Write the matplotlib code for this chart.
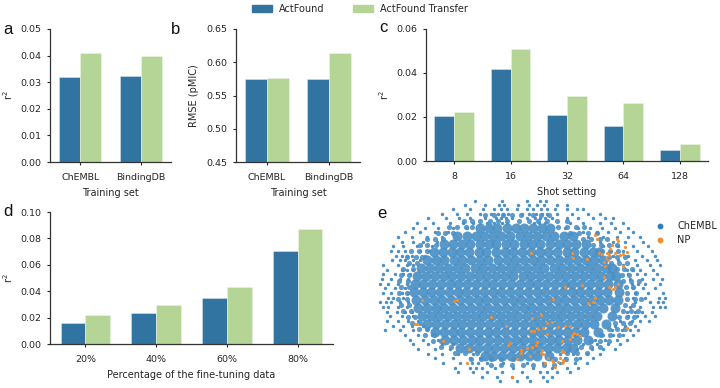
"""Five panel figure: r2 / RMSE bars for ActFound vs ActFound Transfer, plus an embedding map."""
import numpy as np
import matplotlib
matplotlib.use('Agg')
import matplotlib.pyplot as plt
from matplotlib.lines import Line2D
from matplotlib.patches import Patch

BLUE = '#3274a1'
GREEN = '#b4d596'
DOT = '#4a90c6'
ORANGE = '#f58d2e'
INK = '#262626'

# bar values
train_sets = ['ChEMBL', 'BindingDB']
a_base = [0.0320, 0.0322]
a_transfer = [0.0408, 0.0399]
b_base = [0.5745, 0.5750]
b_transfer = [0.5765, 0.6140]
shots = ['8', '16', '32', '64', '128']
c_base = [0.0205, 0.0419, 0.0208, 0.0158, 0.0048]
c_transfer = [0.0222, 0.0508, 0.0297, 0.0265, 0.0076]
fractions = ['20%', '40%', '60%', '80%']
d_base = [0.0158, 0.0237, 0.0347, 0.0705]
d_transfer = [0.0222, 0.0298, 0.0432, 0.0875]

# embedding points, estimated by eye; each row is (y, [x, ...])
chembl_core = [
    (100, [330, 358, 381, 412, 437, 463, 488, 515, 541]),
    (124, [262, 291, 317, 342, 370, 394, 421, 449, 474, 502, 527, 553, 581, 610]),
    (148, [222, 249, 277, 301, 329, 356, 379, 408, 433, 461, 487, 511, 539, 566, 592, 618, 647]),
    (172, [192, 218, 247, 271, 298, 326, 349, 377, 404, 429, 457, 482, 510, 535, 561, 590, 613, 641, 668, 688]),
    (196, [170, 197, 223, 252, 276, 303, 330, 355, 383, 410, 435, 463, 488, 514, 541, 567, 594, 620, 648, 672, 699]),
    (220, [153, 180, 208, 233, 261, 286, 314, 340, 366, 392, 419, 445, 471, 498, 523, 551, 577, 603, 630, 656, 682, 708, 727]),
    (244, [141, 167, 194, 221, 246, 273, 299, 326, 351, 379, 405, 430, 458, 484, 509, 537, 563, 588, 616, 641, 669, 694, 720, 739]),
    (268, [135, 160, 187, 212, 240, 265, 292, 318, 345, 370, 397, 423, 449, 476, 501, 529, 555, 581, 607, 634, 660, 686, 713, 744]),
    (292, [133, 158, 184, 211, 236, 263, 289, 315, 342, 368, 394, 421, 447, 473, 500, 526, 552, 578, 605, 631, 657, 684, 710, 747]),
    (316, [137, 165, 191, 217, 244, 270, 296, 323, 349, 375, 402, 428, 454, 481, 507, 533, 560, 586, 612, 639, 665, 691, 718, 743]),
    (340, [143, 170, 198, 223, 250, 276, 303, 329, 355, 382, 408, 434, 461, 487, 513, 540, 566, 592, 619, 645, 671, 698, 736]),
    (364, [155, 182, 208, 235, 261, 287, 314, 340, 366, 393, 419, 445, 472, 498, 524, 551, 577, 603, 630, 656, 682, 725]),
    (388, [172, 198, 225, 251, 277, 304, 330, 356, 383, 409, 435, 462, 488, 514, 541, 567, 593, 620, 646, 672, 708]),
    (412, [195, 221, 248, 274, 300, 327, 353, 379, 406, 432, 458, 485, 511, 537, 564, 590, 616, 643, 685]),
    (436, [226, 252, 279, 305, 331, 358, 384, 410, 437, 463, 489, 516, 542, 568, 595, 621, 654]),
    (460, [271, 297, 324, 350, 376, 403, 429, 455, 482, 508, 534, 561, 587, 609]),
    (484, [344, 370, 397, 423, 449, 476, 502, 536]),
]
# ring of medium dots between the solid middle and the sparse rim
chembl_mid = [
    (60, [345, 372, 398, 425, 452, 490, 512, 538]),
    (78, [282, 305, 331, 360, 385, 412, 446, 478, 503, 530, 562, 590]),
    (96, [238, 262, 288, 305, 565, 592, 618, 643]),
    (114, [203, 226, 248, 600, 628, 655, 680]),
    (132, [172, 196, 220, 640, 664, 690, 712]),
    (150, [150, 172, 197, 668, 694, 718, 742]),
    (168, [124, 148, 170, 696, 720, 745]),
    (186, [112, 138, 157, 716, 742, 765]),
    (204, [118, 142, 722, 748, 772]),
    (222, [100, 128, 740, 762, 786]),
    (240, [94, 118, 755, 778]),
    (258, [88, 114, 760, 784, 806]),
    (276, [92, 116, 768, 790]),
    (294, [88, 110, 772, 798]),
    (312, [84, 112, 770, 796, 812]),
    (330, [94, 118, 764, 788]),
    (348, [100, 124, 760, 782, 804]),
    (366, [114, 136, 748, 772, 792]),
    (384, [126, 150, 734, 758, 780]),
    (402, [146, 172, 716, 742, 764]),
    (420, [164, 192, 692, 720, 746]),
    (438, [188, 214, 664, 690, 716]),
    (456, [214, 244, 634, 662, 690]),
    (474, [254, 286, 320, 592, 622, 650]),
    (492, [304, 332, 364, 392, 428, 556, 588, 618]),
    (510, [362, 394, 426, 458, 490, 522, 552]),
]
chembl_edge = [
    (18, [315, 395, 470, 510, 528]),
    (30, [285, 345, 388, 402, 445, 476, 500, 522, 560, 590]),
    (42, [250, 300, 338, 372, 392, 410, 440, 470, 490, 512, 530, 556, 590, 622, 640]),
    (56, [215, 262, 290, 330, 362, 385, 400, 415, 455, 478, 498, 515, 530, 560, 605, 655, 690]),
    (70, [175, 228, 268, 300, 345, 378, 392, 408, 425, 470, 495, 510, 525, 545, 590, 625, 670, 705, 730]),
    (84, [140, 188, 240, 280, 310, 350, 372, 396, 412, 492, 508, 524, 600, 640, 690, 722, 760]),
    (98, [130, 165, 205, 250, 290, 585, 625, 660, 695, 735, 775]),
    (112, [105, 150, 195, 235, 640, 680, 715, 750, 790]),
    (126, [85, 125, 170, 215, 655, 700, 740, 775, 810]),
    (140, [95, 130, 160, 200, 690, 730, 765, 820]),
    (154, [70, 100, 140, 185, 700, 745, 790, 835]),
    (168, [62, 85, 105, 150, 178, 720, 760, 800, 845]),
    (182, [78, 95, 110, 125, 165, 730, 775, 815, 855]),
    (196, [65, 90, 105, 128, 150, 745, 795, 830, 860]),
    (210, [40, 85, 110, 130, 760, 800, 840, 870]),
    (224, [50, 95, 112, 128, 770, 790, 810, 850]),
    (238, [38, 75, 100, 120, 775, 800, 825, 860]),
    (252, [35, 62, 90, 115, 780, 815, 850, 875]),
    (266, [30, 55, 85, 110, 785, 805, 825, 870]),
    (280, [45, 75, 105, 790, 820, 855]),
    (294, [38, 62, 95, 115, 795, 835, 880]),
    (308, [55, 70, 100, 790, 825, 868, 885]),
    (322, [30, 48, 62, 90, 115, 795, 840, 865, 878]),
    (336, [40, 55, 85, 110, 780, 810, 850, 870, 885]),
    (350, [52, 80, 105, 125, 770, 795, 815, 845]),
    (364, [60, 95, 130, 775, 800, 825, 855]),
    (378, [50, 85, 115, 145, 750, 785, 810, 838]),
    (392, [68, 100, 125, 160, 735, 765, 795]),
    (406, [45, 90, 130, 170, 725, 755, 780, 805]),
    (420, [105, 145, 185, 700, 730, 760, 790]),
    (434, [120, 160, 205, 675, 705, 740, 770]),
    (448, [130, 175, 215, 250, 640, 680, 715, 750]),
    (462, [145, 195, 240, 620, 665, 700, 735]),
    (476, [175, 215, 265, 310, 570, 610, 650, 690]),
    (490, [195, 250, 300, 330, 540, 585, 630, 670]),
    (504, [220, 270, 305, 325, 350, 400, 470, 520, 570, 615, 650]),
    (518, [255, 300, 318, 335, 375, 430, 490, 545, 590, 625]),
    (532, [265, 310, 350, 395, 455, 510, 530, 560, 600]),
    (546, [335, 380, 425, 470, 520, 545]),
    (558, [390, 440, 480, 530]),
]
np_x = [675, 680, 740, 745, 725, 765, 720, 688, 695, 712, 718, 708, 715, 703, 706, 735, 750, 760, 770, 605, 608, 650,
        483, 760, 702, 718, 730, 735, 745, 585, 635, 675, 668, 655, 673, 548, 252, 260, 157, 363, 487, 512, 545, 530,
        520, 505, 492, 482, 408, 135, 142, 565, 585, 600, 612, 605, 620, 600, 630, 575, 530, 500, 497, 485, 470, 452,
        420, 415, 515, 513, 452, 575, 582, 575, 520, 480, 440, 535, 545, 525, 550, 570, 578, 565, 575, 580, 555, 425,
        298, 220, 290, 770]
np_y = [120, 133, 132, 138, 150, 155, 162, 175, 178, 175, 180, 188, 195, 200, 212, 175, 180, 178, 172, 175, 188, 192,
        173, 212, 245, 277, 282, 276, 268, 277, 270, 310, 320, 323, 322, 313, 317, 314, 314, 366, 368, 360, 380, 385,
        398, 402, 408, 408, 394, 387, 387, 395, 392, 392, 415, 420, 418, 432, 422, 438, 418, 440, 450, 455, 458, 465,
        445, 450, 465, 475, 475, 465, 470, 472, 478, 482, 492, 490, 495, 505, 500, 490, 495, 500, 505, 500, 515, 545,
        462, 438, 505, 400]


def flatten(rows):
    xs = [x for y, row in rows for x in row]
    ys = [y for y, row in rows for x in row]
    return xs, ys


def px_axes(fig, left, right, top, bottom):
    # axes box given in image pixels
    W, H = fig.get_size_inches() * fig.dpi
    return fig.add_axes([left / W, 1 - bottom / H, (right - left) / W, (bottom - top) / H])


def bars(ax, labels, base, transfer, ylim, ticks, xlabel, ylabel, ypad=3.4, fmt='%.2f'):
    x = np.arange(len(labels))
    w = 0.35
    ax.bar(x - w / 2, base, w, color=BLUE, edgecolor='#d8e4ec', linewidth=0.4)
    ax.bar(x + w / 2, transfer, w, color=GREEN, edgecolor='#eef5e6', linewidth=0.4)
    ax.set_xlim(-0.5, len(labels) - 0.5)
    ax.set_ylim(*ylim)
    ax.set_yticks(ticks)
    ax.set_yticklabels([fmt % t for t in ticks])
    ax.set_xticks(x)
    ax.set_xticklabels(labels)
    ax.set_xlabel(xlabel, fontsize=7, color=INK, labelpad=4.2)
    ax.set_ylabel(ylabel, fontsize=7, color=INK, labelpad=ypad)
    ax.tick_params(labelsize=6.8, length=2.2, width=0.8, colors=INK)
    ax.tick_params(axis='y', pad=4.2)
    ax.tick_params(axis='x', pad=5.6)
    for s in ['top', 'right']:
        ax.spines[s].set_visible(False)
    for s in ['left', 'bottom']:
        ax.spines[s].set_linewidth(0.9)
        ax.spines[s].set_color('#333333')


fig = plt.figure(figsize=(7.2, 3.88), dpi=100)

ax_a = px_axes(fig, 50, 171, 29, 162)
bars(ax_a, train_sets, a_base, a_transfer, (0, 0.05), [0, 0.01, 0.02, 0.03, 0.04, 0.05], 'Training set', 'r$^2$')
ax_b = px_axes(fig, 236, 360, 29, 162)
bars(ax_b, train_sets, b_base, b_transfer, (0.45, 0.65), [0.45, 0.50, 0.55, 0.60, 0.65], 'Training set',
     'RMSE (pMIC)', ypad=5)
ax_c = px_axes(fig, 426, 708, 29, 161)
bars(ax_c, shots, c_base, c_transfer, (0, 0.06), [0, 0.02, 0.04, 0.06], 'Shot setting', 'r$^2$')
ax_d = px_axes(fig, 50, 333, 212, 344)
bars(ax_d, fractions, d_base, d_transfer, (0, 0.10), [0, 0.02, 0.04, 0.06, 0.08, 0.10],
     'Percentage of the fine-tuning data', 'r$^2$')

ax_e = px_axes(fig, 370, 720, 195, 388)
ax_e.set_xlim(0, 1050)
ax_e.set_ylim(579, 0)
ax_e.axis('off')
core_x, core_y = flatten(chembl_core)
mid_x, mid_y = flatten(chembl_mid)
edge_x, edge_y = flatten(chembl_edge)
ax_e.scatter(core_x, core_y, s=52, color=DOT, linewidths=0, alpha=0.92)
ax_e.scatter(mid_x, mid_y, s=14, color=DOT, linewidths=0, alpha=0.9)
ax_e.scatter(edge_x, edge_y, s=6, color=DOT, linewidths=0)
ax_e.scatter(np_x, np_y, s=5, color=ORANGE, linewidths=0)
ax_e.legend(handles=[Line2D([], [], ls='none', marker='o', ms=3.2, color='#2f7fbd', label='ChEMBL'),
                     Line2D([], [], ls='none', marker='o', ms=3.2, color=ORANGE, label='NP')],
            loc='upper right', bbox_to_anchor=(1.003, 0.884), frameon=False, fontsize=7, labelcolor=INK,
            handletextpad=0.75, labelspacing=0.38, borderaxespad=0)

fig.legend(handles=[Patch(color=BLUE, label='ActFound'), Patch(color=GREEN, label='ActFound Transfer')],
           loc='upper center', bbox_to_anchor=(0.5, 1.012), ncol=2, frameon=False, fontsize=7, labelcolor=INK,
           handlelength=2.05, handleheight=0.72, handletextpad=0.72, columnspacing=2.9)

for s, px, py in [('a', 3, 29), ('b', 171, 29), ('c', 379, 28), ('d', 3, 212), ('e', 377, 213)]:
    fig.text(px / 720, 1 - py / 388, s, fontsize=12, family='Liberation Sans', color='#111111', va='center')

fig.savefig('out.png', dpi=100)
plt.close(fig)
